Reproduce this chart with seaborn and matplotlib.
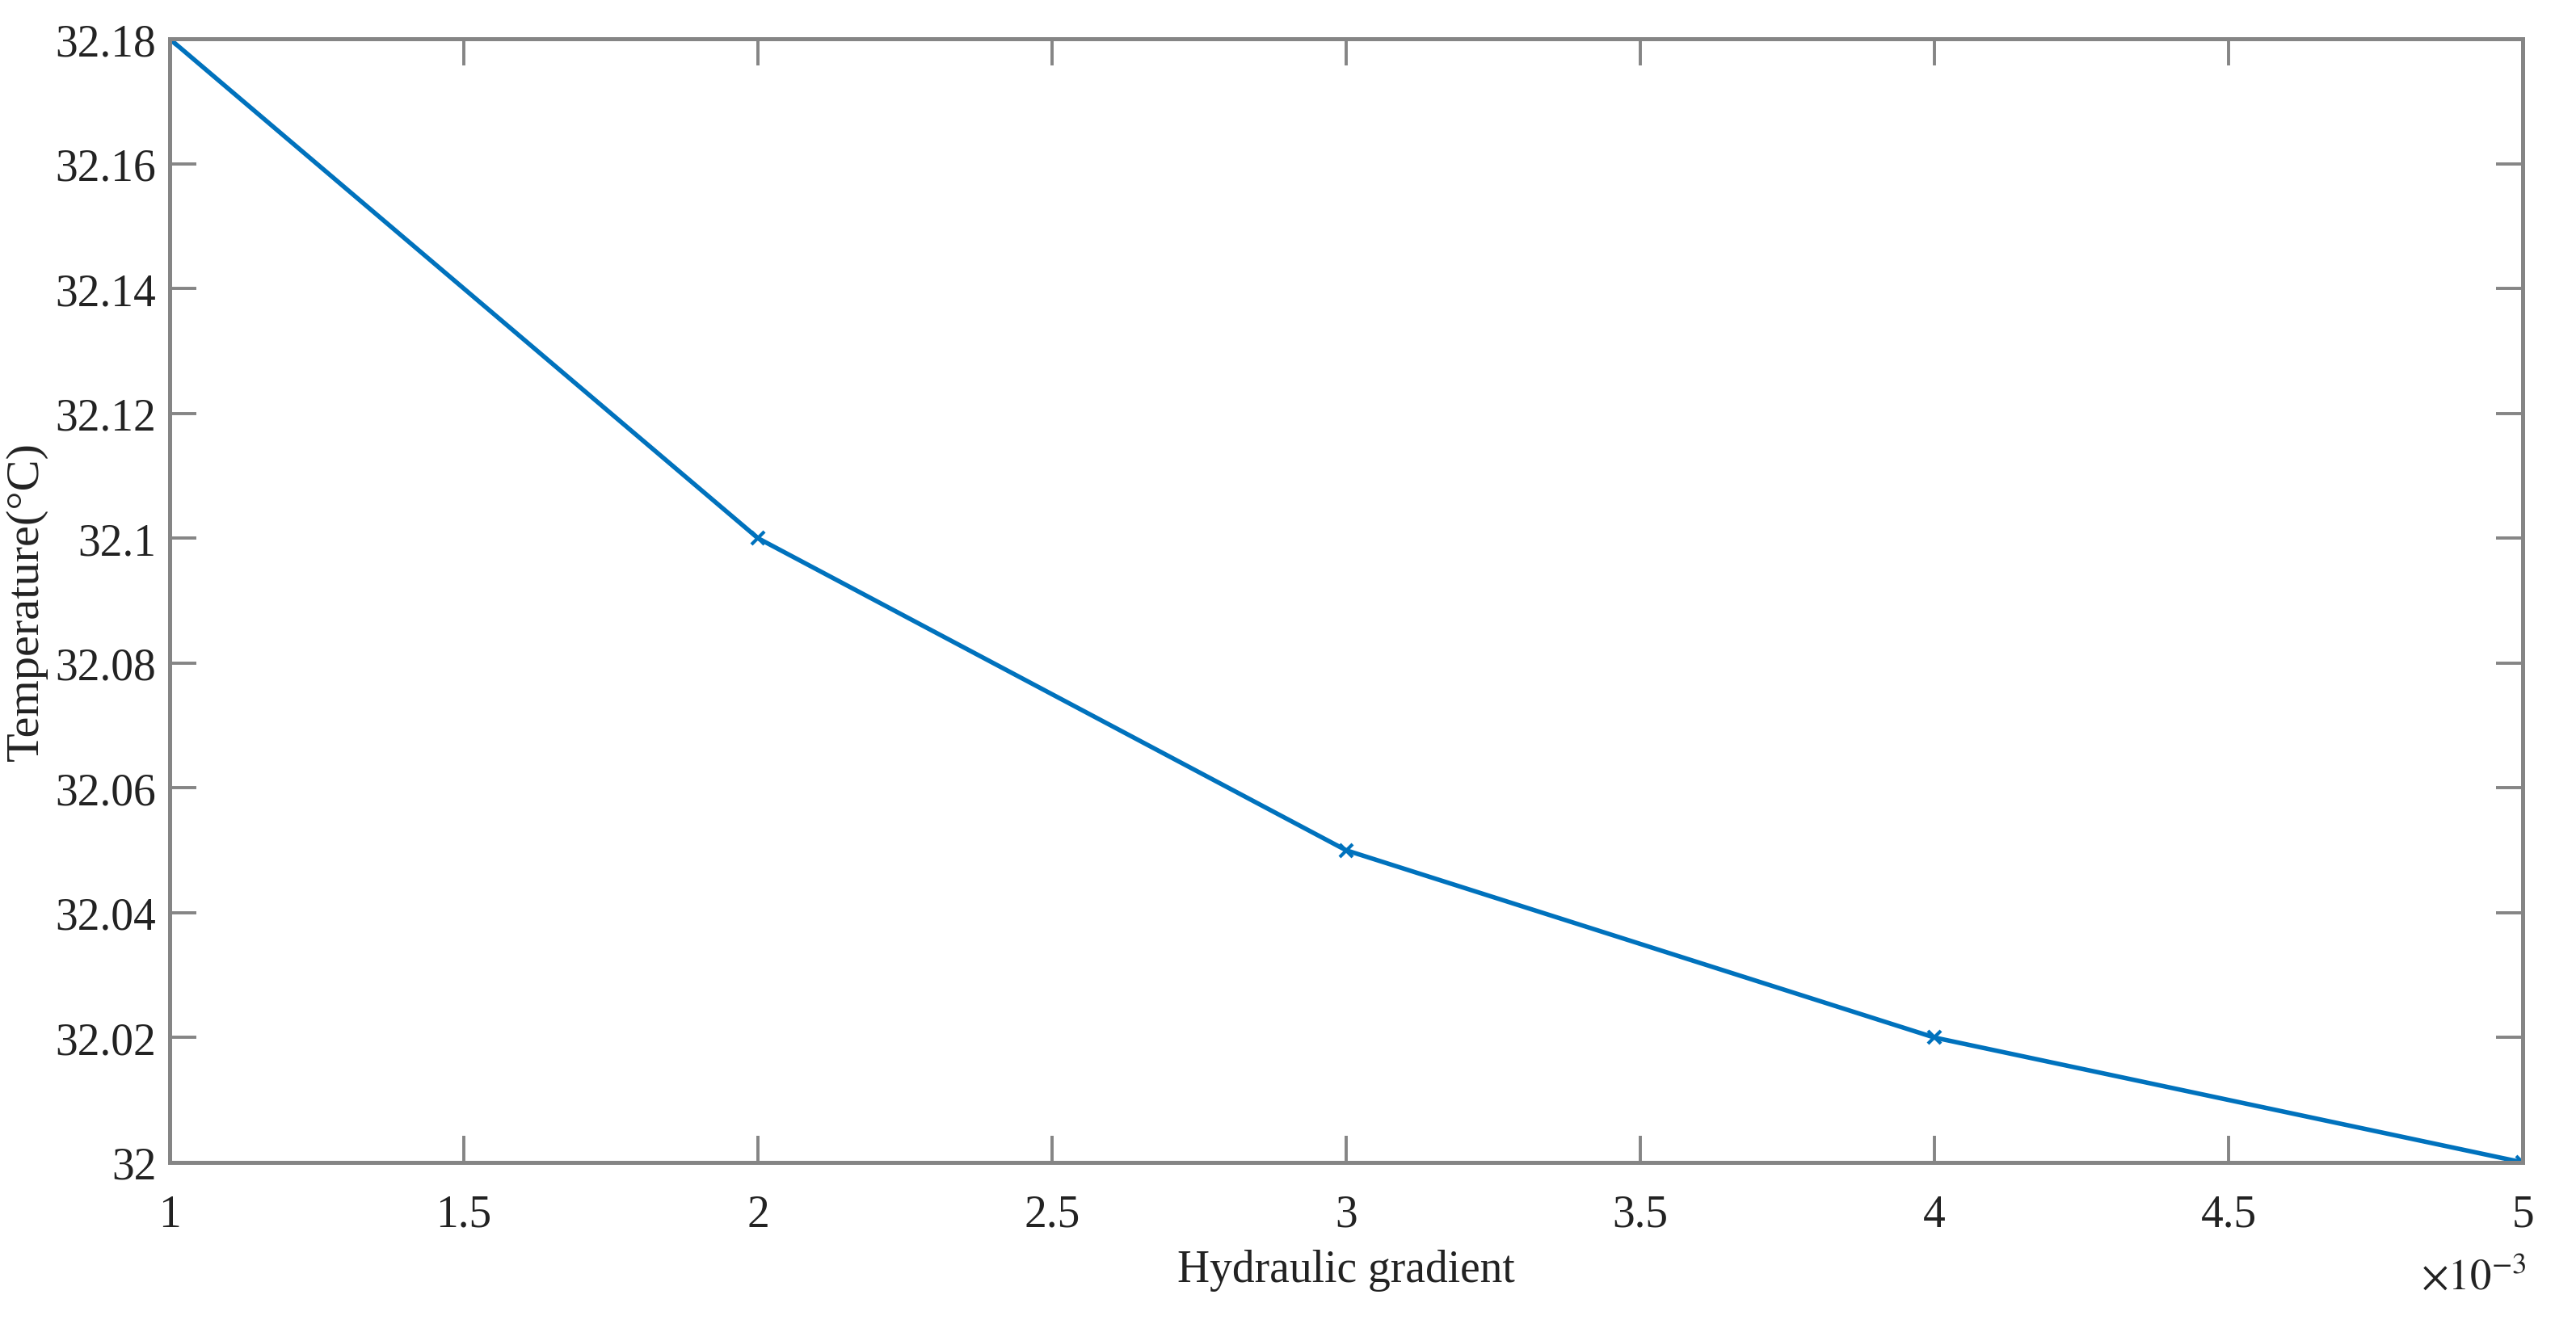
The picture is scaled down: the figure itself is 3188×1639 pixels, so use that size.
import matplotlib
matplotlib.use('Agg')
import matplotlib.pyplot as plt
import seaborn as sns
import pandas as pd
from matplotlib.ticker import FuncFormatter, MultipleLocator

# data
gradient = [0.001, 0.002, 0.003, 0.004, 0.005]
temperature = [32.18, 32.10, 32.05, 32.02, 32.00]

df = pd.DataFrame({'Hydraulic gradient': gradient, 'Temperature': temperature})

sns.set_style("white")
plt.rcParams['font.family'] = ['Liberation Serif', 'DejaVu Serif']
plt.rcParams['mathtext.fontset'] = 'stix'

fig = plt.figure(figsize=(15.94, 8.2), dpi=200)
ax = fig.add_axes([0.0659, 0.122, 0.9134, 0.848])

sns.lineplot(data=df, x='Hydraulic gradient', y='Temperature', color='#0072BD',
             linewidth=2.0, marker='x', markersize=5.5, markeredgewidth=1.5,
             markeredgecolor='#0072BD', ax=ax)

ax.set_xlim(0.001, 0.005)
ax.set_ylim(32.0, 32.18)
ax.xaxis.set_major_locator(MultipleLocator(0.0005))
ax.yaxis.set_major_locator(MultipleLocator(0.02))
ax.xaxis.set_major_formatter(FuncFormatter(lambda v, p: f'{v * 1e3:g}'))
ax.yaxis.set_major_formatter(FuncFormatter(lambda v, p: f'{round(v, 2):g}'))

for s in ax.spines.values():
    s.set_color('#858585')
    s.set_linewidth(1.8)

ax.tick_params(direction='in', length=12, width=1.4, color='#858585',
               labelsize=20, labelcolor='#222222', top=True, right=True,
               bottom=True, left=True)
ax.tick_params(axis='x', pad=14)
ax.tick_params(axis='y', pad=6)

ax.set_xlabel('Hydraulic gradient', fontsize=20, color='#222222', labelpad=6)
ax.set_ylabel('Temperature(°C)', fontsize=21, color='#222222')
ax.yaxis.label.set_verticalalignment('center')
ax.yaxis.set_label_coords(-0.061, 0.5)

ax.text(0.979, -0.102, r'$\times10^{-3}$', transform=ax.transAxes, fontsize=19,
        color='#222222', ha='center', va='center')

fig.savefig('out.png', dpi=200, facecolor='white')
